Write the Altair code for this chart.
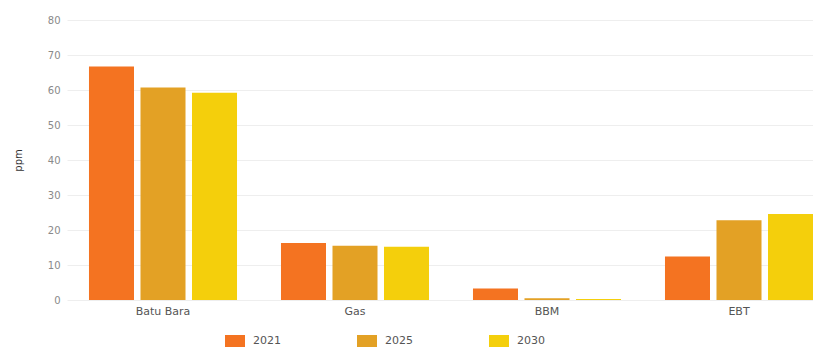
import altair as alt
import pandas as pd

categories = ["Batu Bara", "Gas", "BBM", "EBT"]
years = ["2021", "2025", "2030"]
v2021 = [66.7, 16.3, 3.3, 12.4]
v2025 = [60.7, 15.5, 0.5, 22.8]
v2030 = [59.2, 15.2, 0.3, 24.6]
colors = ["#F47321", "#E3A125", "#F4CF0C"]

rows = []
for yr, vals in zip(years, [v2021, v2025, v2030]):
    for c, v in zip(categories, vals):
        rows.append({"kategori": c, "tahun": yr, "ppm": v})
df = pd.DataFrame(rows)

FONT = "DejaVu Sans"

chart = alt.Chart(df).mark_bar().encode(
    x=alt.X("kategori:N", sort=categories, title=None,
            scale=alt.Scale(range=[0, 768], paddingInner=0.229, paddingOuter=0.1145),
            axis=alt.Axis(labelAngle=0, domain=False, ticks=False, labelColor="#555555",
                          labelFontSize=11, labelPadding=5, labelFont=FONT)),
    xOffset=alt.XOffset("tahun:N", sort=years,
                        scale=alt.Scale(paddingInner=0.126, paddingOuter=0)),
    y=alt.Y("ppm:Q", title="ppm",
            scale=alt.Scale(domain=[0, 80], nice=False),
            axis=alt.Axis(values=[0, 10, 20, 30, 40, 50, 60, 70, 80], domain=False, ticks=False,
                          labelColor="#8a8a8a", labelFontSize=10, labelPadding=7, labelFont=FONT,
                          gridColor="#eeeeee", titleFontSize=10, titleFontWeight="normal",
                          titleColor="#333333", titleFont=FONT, titlePadding=24)),
    color=alt.Color("tahun:N", sort=years,
                    scale=alt.Scale(domain=years, range=colors),
                    legend=alt.Legend(title=None, orient="none", direction="horizontal",
                                      legendX=158, legendY=311, padding=0,
                                      symbolType="M-1,-0.6H1V0.6H-1Z", symbolSize=400,
                                      symbolStrokeWidth=0, symbolOpacity=1,
                                      labelFontSize=11, labelColor="#555555", labelFont=FONT,
                                      labelOffset=8, columnPadding=76)),
).properties(
    width=746, height=280,
    autosize=alt.AutoSizeParams(type="none"),
    padding={"left": 59, "top": 12, "right": 0, "bottom": 49},
).configure_view(stroke=None)

chart.save("out.html", embed_options={"renderer": "svg", "actions": False})
